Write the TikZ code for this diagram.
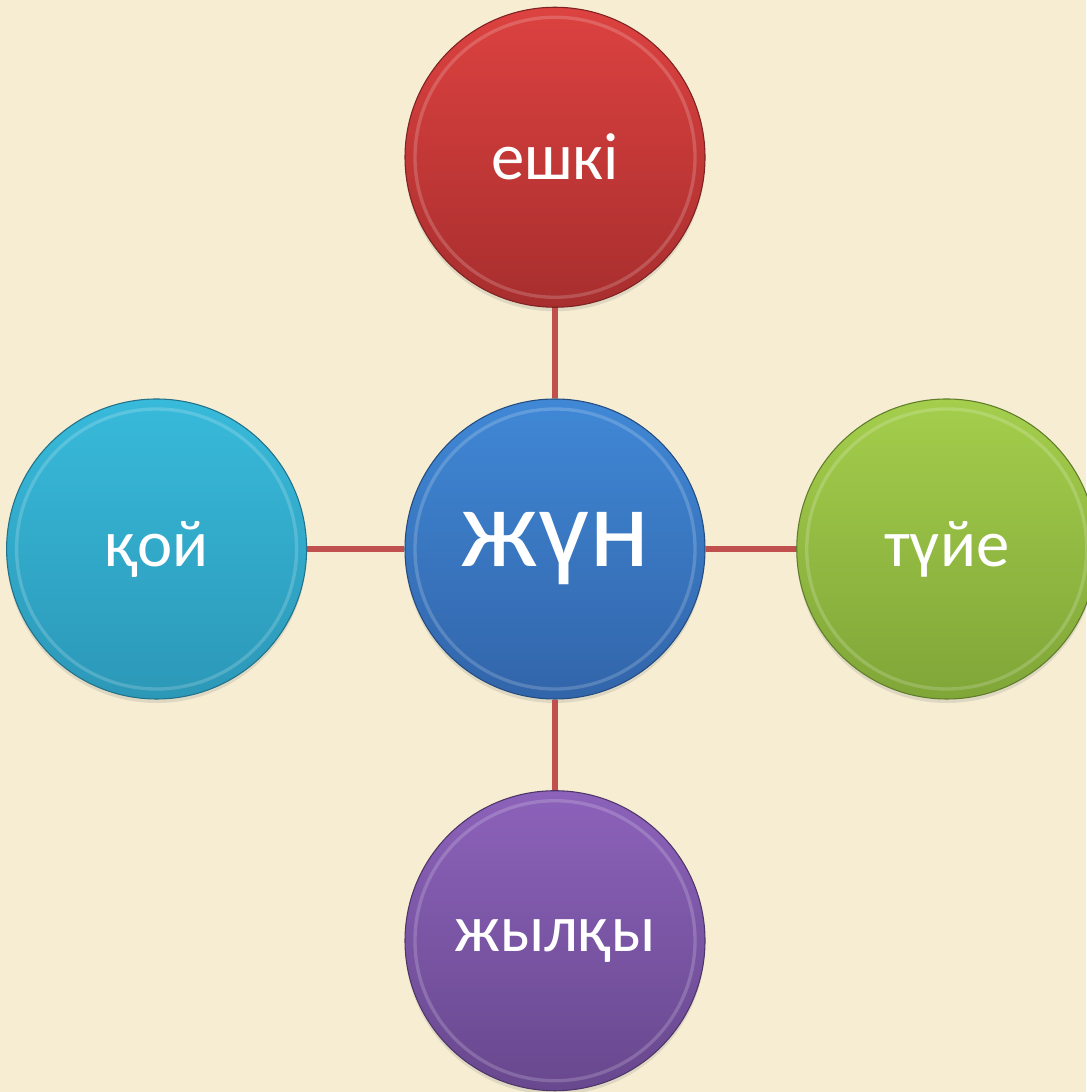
\documentclass[tikz,border=0pt]{standalone}
\usepackage{fontspec}
\setmainfont{Carlito}
\usetikzlibrary{positioning,shadows}

\definecolor{paper}{HTML}{F6EDD2}
\definecolor{linkred}{HTML}{C0504D}
\definecolor{bluetop}{RGB}{64,136,214}
\definecolor{bluebot}{RGB}{50,101,170}
\definecolor{redtop}{RGB}{220,66,64}
\definecolor{redbot}{RGB}{168,46,46}
\definecolor{cyantop}{RGB}{56,186,218}
\definecolor{cyanbot}{RGB}{44,152,184}
\definecolor{greentop}{RGB}{164,206,76}
\definecolor{greenbot}{RGB}{128,166,56}
\definecolor{violettop}{RGB}{140,98,186}
\definecolor{violetbot}{RGB}{104,72,142}

\begin{document}
\begin{tikzpicture}[x=0.75pt,y=0.75pt,
    bubble/.style={circle,minimum size=225pt,inner sep=0pt,text=white,font=\fontsize{50}{56}\selectfont,
      top color=#1top,bottom color=#1bot,draw=#1bot!75!black,line width=0.8pt,
      drop shadow={opacity=0.2,shadow xshift=0pt,shadow yshift=-3pt},
      path picture={\draw[white,opacity=0.18,line width=2.5pt]
        (path picture bounding box.center) circle (105pt);}},
    link/.style={draw=linkred,line width=3.8pt}]
  \fill[paper] (0,0) rectangle (1086,1092);
  \useasboundingbox (0,0) rectangle (1086,1092);

  \node[bubble=blue,font=\fontsize{85}{92}\selectfont] (zhun) at (555,543) {жүн};
  \node[bubble=red,above=68pt of zhun] (eshki) {ешкі};
  \node[bubble=cyan,left=73pt of zhun] (qoy) {қой};
  \node[bubble=green,right=68pt of zhun] (tuye) {түйе};
  \node[bubble=violet,below=68pt of zhun] (zhylqy) {жылқы};

  \draw[link] (zhun) -- (eshki);
  \draw[link] (zhun) -- (qoy);
  \draw[link] (zhun) -- (tuye);
  \draw[link] (zhun) -- (zhylqy);
\end{tikzpicture}
\end{document}
